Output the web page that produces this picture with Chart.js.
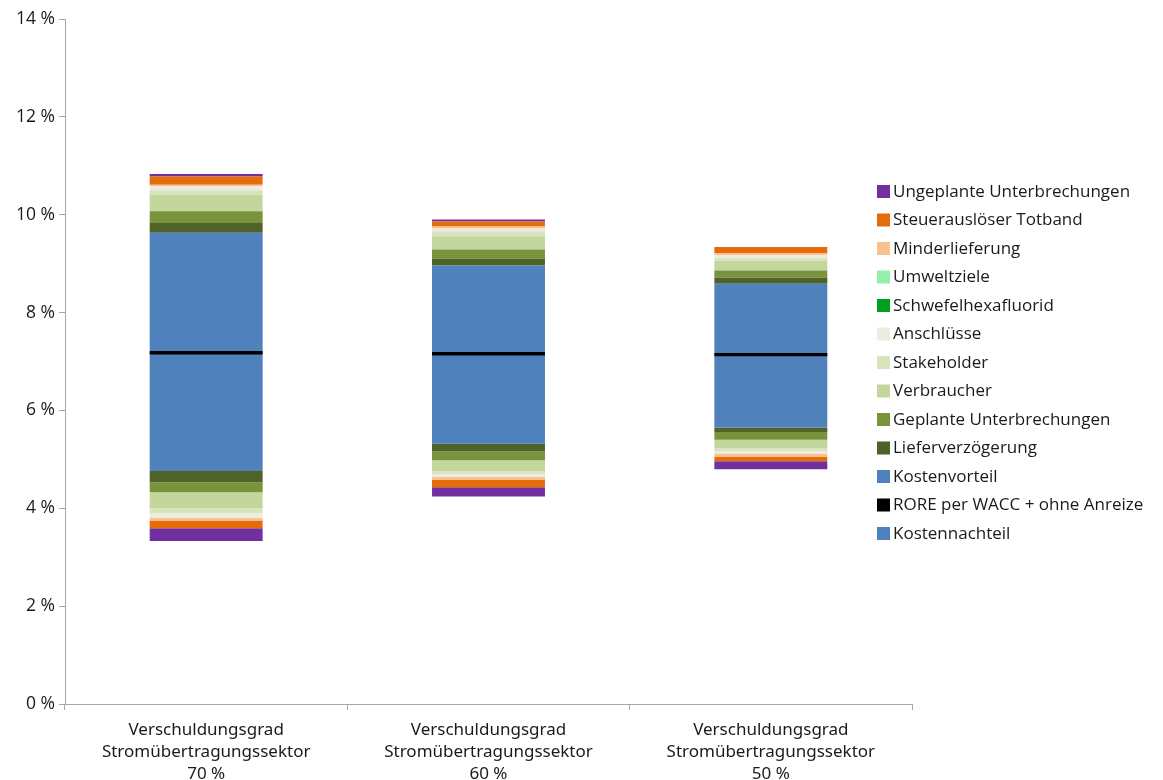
<!DOCTYPE html>
<html lang="de">
<head>
<meta charset="utf-8">
<title>RORE-Spannen nach Verschuldungsgrad</title>
<script src="https://cdn.jsdelivr.net/npm/chart.js@4.4.1/dist/chart.umd.min.js"></script>
<style>
  html, body { margin: 0; padding: 0; background: #ffffff; }
  #wrap { position: relative; width: 1163px; height: 780px; }
</style>
</head>
<body>
<div id="wrap"><canvas id="chart" width="1163" height="780"></canvas></div>
<script>
// Kategorien (Verschuldungsgrad)
const categories = [
  ["Verschuldungsgrad", "Stromübertragungssektor", "70 %"],
  ["Verschuldungsgrad", "Stromübertragungssektor", "60 %"],
  ["Verschuldungsgrad", "Stromübertragungssektor", "50 %"]
];

// Basis: RORE per WACC ohne Anreize (in %)
const rore = [7.18, 7.16, 7.14];

// Kostenvorteil (nach oben) und Kostennachteil (nach unten), in Prozentpunkten
const kostenvorteil  = [2.45, 1.80, 1.45];
const kostennachteil = [2.42, 1.84, 1.49];

// Anreizkomponenten: Chance (oben) und Risiko (unten), in Prozentpunkten
const lieferverzoegerungUp   = [0.20, 0.14, 0.12];
const lieferverzoegerungDown = [0.23, 0.16, 0.09];
const geplanteUp             = [0.24, 0.19, 0.15];
const geplanteDown           = [0.20, 0.18, 0.16];
const verbraucherUp          = [0.34, 0.27, 0.20];
const verbraucherDown        = [0.33, 0.23, 0.18];
const stakeholderUp          = [0.09, 0.10, 0.06];
const stakeholderDown        = [0.10, 0.05, 0.05];
const anschluesseUp          = [0.08, 0.06, 0.05];
const anschluesseDown        = [0.10, 0.05, 0.05];
const schwefelUp             = [0.00, 0.00, 0.00];
const schwefelDown           = [0.00, 0.00, 0.00];
const umweltUp               = [0.00, 0.00, 0.00];
const umweltDown             = [0.00, 0.00, 0.00];
const minderlieferungUp      = [0.03, 0.04, 0.05];
const minderlieferungDown    = [0.05, 0.07, 0.07];
const totbandUp              = [0.17, 0.10, 0.12];
const totbandDown            = [0.16, 0.15, 0.09];
const ungeplanteUp           = [0.05, 0.04, 0.00];
const ungeplanteDown         = [0.26, 0.19, 0.16];

// Y-Achse
const yTicks = [0, 2, 4, 6, 8, 10, 12, 14];

// Komponenten von innen (an der RORE-Linie) nach außen
const components = [
  { name: "Kostenvorteil",            color: "#4f81bd", up: kostenvorteil,          down: null },
  { name: "Kostennachteil",           color: "#4f81bd", up: null,                   down: kostennachteil },
  { name: "Lieferverzögerung",        color: "#4f6228", up: lieferverzoegerungUp,   down: lieferverzoegerungDown },
  { name: "Geplante Unterbrechungen", color: "#77933c", up: geplanteUp,             down: geplanteDown },
  { name: "Verbraucher",              color: "#c3d69b", up: verbraucherUp,          down: verbraucherDown },
  { name: "Stakeholder",              color: "#d7e4bd", up: stakeholderUp,          down: stakeholderDown },
  { name: "Anschlüsse",               color: "#eeece1", up: anschluesseUp,          down: anschluesseDown },
  { name: "Schwefelhexafluorid",      color: "#00a020", up: schwefelUp,             down: schwefelDown },
  { name: "Umweltziele",              color: "#92f0a8", up: umweltUp,               down: umweltDown },
  { name: "Minderlieferung",          color: "#fac090", up: minderlieferungUp,      down: minderlieferungDown },
  { name: "Steuerauslöser Totband",   color: "#e46c0a", up: totbandUp,              down: totbandDown },
  { name: "Ungeplante Unterbrechungen", color: "#7030a0", up: ungeplanteUp,         down: ungeplanteDown }
];

// Legendenreihenfolge (von oben nach unten)
const legendOrder = [
  "Ungeplante Unterbrechungen", "Steuerauslöser Totband", "Minderlieferung", "Umweltziele",
  "Schwefelhexafluorid", "Anschlüsse", "Stakeholder", "Verbraucher", "Geplante Unterbrechungen",
  "Lieferverzögerung", "Kostenvorteil", "RORE per WACC + ohne Anreize", "Kostennachteil"
];
const roreColor = "#000000";

// Schwimmende Balken: jede Komponente setzt an der vorherigen an
const datasets = [];
datasets.push({
  label: "RORE per WACC + ohne Anreize",
  data: rore.map(v => [v - 0.035, v + 0.035]),
  backgroundColor: roreColor
});
const upCursor = rore.slice();
const downCursor = rore.slice();
components.forEach(c => {
  if (c.up) {
    datasets.push({
      label: c.name,
      data: c.up.map((v, i) => {
        const seg = v > 0 ? [upCursor[i], upCursor[i] + v] : null;
        upCursor[i] += v;
        return seg;
      }),
      backgroundColor: c.color
    });
  }
  if (c.down) {
    datasets.push({
      label: c.name + " (Risiko)",
      data: c.down.map((v, i) => {
        const seg = v > 0 ? [downCursor[i] - v, downCursor[i]] : null;
        downCursor[i] -= v;
        return seg;
      }),
      backgroundColor: c.color
    });
  }
});

const colorOf = name => {
  if (name === "RORE per WACC + ohne Anreize") return roreColor;
  return components.find(c => c.name === name).color;
};

// Legende rechts neben den Balken
const sideLegend = {
  id: "sideLegend",
  afterDraw(chart) {
    const ctx = chart.ctx;
    ctx.save();
    ctx.font = '17px "Open Sans", sans-serif';
    ctx.textBaseline = "middle";
    ctx.textAlign = "left";
    legendOrder.forEach((name, k) => {
      const y = 191 + k * 28.5;
      ctx.fillStyle = colorOf(name);
      ctx.fillRect(877, y - 6, 13, 13);
      ctx.fillStyle = "#1a1a1a";
      ctx.fillText(name, 893, y + 1);
    });
    ctx.restore();
  }
};

new Chart(document.getElementById("chart"), {
  type: "bar",
  data: { labels: categories, datasets },
  plugins: [sideLegend],
  options: {
    responsive: false,
    animation: false,
    layout: { padding: { left: 0, right: 251, top: 19, bottom: 0 } },
    datasets: { bar: { categoryPercentage: 1.0, barPercentage: 0.4, borderWidth: 0, grouped: false } },
    plugins: { legend: { display: false }, tooltip: { enabled: false } },
    scales: {
      x: {
        stacked: true,
        grid: { display: true, drawOnChartArea: false, drawTicks: true, tickLength: 6, offset: true, color: "#a6a6a6" },
        border: { color: "#a6a6a6" },
        ticks: { color: "#1a1a1a", font: { family: "'Noto Sans', sans-serif", size: 17, lineHeight: 1.3 }, padding: 9, maxRotation: 0 },
        afterFit: s => { s.height = 76; }
      },
      y: {
        min: 0,
        max: 14,
        afterBuildTicks: s => { s.ticks = yTicks.map(v => ({ value: v })); },
        grid: { display: true, drawOnChartArea: false, drawTicks: true, tickLength: 6, color: "#a6a6a6" },
        border: { color: "#a6a6a6" },
        ticks: { color: "#1a1a1a", font: { family: "'Open Sans', sans-serif", size: 17.5 }, padding: 4, callback: v => v + " %" },
        afterFit: s => { s.width = 65; }
      }
    }
  }
});
</script>
</body>
</html>
